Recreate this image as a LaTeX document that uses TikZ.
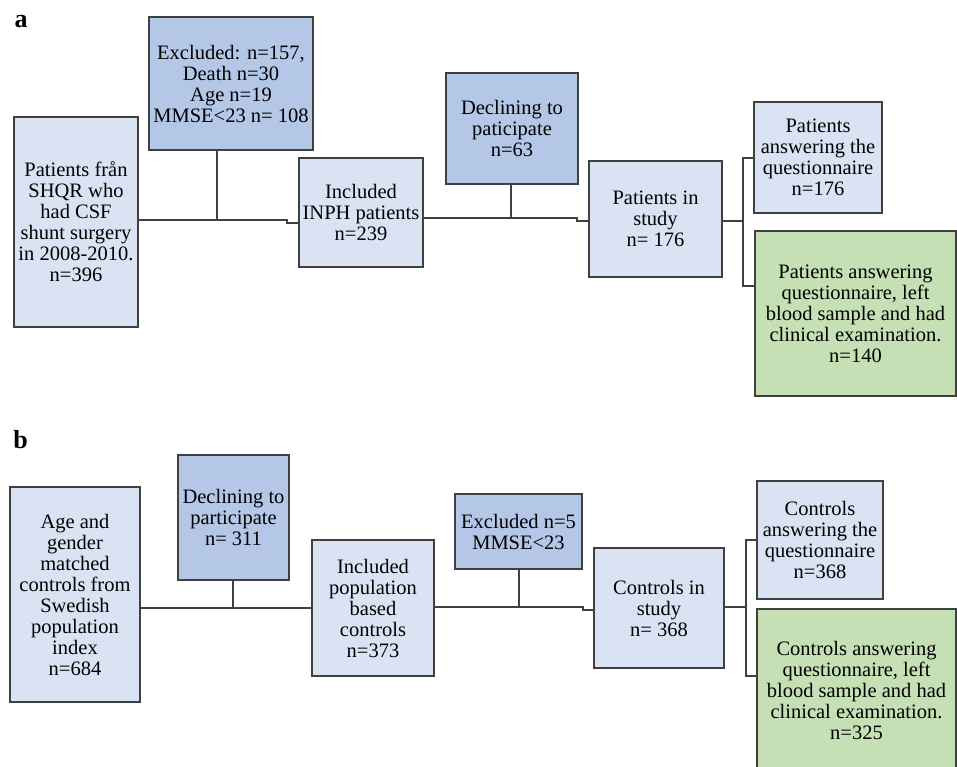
\documentclass[tikz,border=0pt]{standalone}
\usepackage{fontspec}
\setmainfont{Liberation Serif}
\definecolor{lightbox}{HTML}{DAE3F3}
\definecolor{midbox}{HTML}{B4C7E7}
\definecolor{greenbox}{HTML}{C5E0B4}
\definecolor{edge}{HTML}{404040}
\begin{document}
\begin{tikzpicture}[x=1pt,y=-1pt,
  box/.style={draw=edge,line width=1.3pt,inner sep=0pt,align=center,
    font=\fontsize{20.5}{21}\selectfont},
  lbox/.style={box,fill=lightbox},
  mbox/.style={box,fill=midbox},
  gbox/.style={box,fill=greenbox},
  conn/.style={draw=edge,line width=1.3pt},
  panel/.style={font=\fontsize{26}{26}\selectfont\bfseries}]
\useasboundingbox (0,0) rectangle (957,767);
\clip (0,0) rectangle (957,767);
% panel a
\node[panel] (la) at (21,22) {a};
\node[lbox,minimum width=124pt,minimum height=210pt] (a1) at (76,222)
  {Patients från\\SHQR who\\had CSF\\shunt surgery\\in 2008-2010.\\n=396};
\node[mbox,minimum width=164pt,minimum height=133pt] (aex) at (231,83.5)
  {Excluded: n=157,\\Death n=30\\Age n=19\\MMSE<23 n= 108};
\node[lbox,minimum width=124pt,minimum height=109pt] (ainc) at (361,212.5)
  {Included\\INPH patients\\n=239};
\node[mbox,minimum width=132pt,minimum height=111pt] (adec) at (512,128.5)
  {Declining to\\paticipate\\n=63};
\node[lbox,minimum width=133pt,minimum height=116pt] (astudy) at (655.5,219)
  {Patients in\\study\\n= 176};
\node[lbox,minimum width=128pt,minimum height=111pt] (aans) at (818,157.5)
  {Patients\\answering the\\questionnaire\\n=176};
\node[gbox,minimum width=201pt,minimum height=165pt] (agreen) at (855.5,313.5)
  {Patients answering\\questionnaire, left\\blood sample and had\\clinical examination.\\n=140};
\draw[conn] (a1.east |- 0,220) -- (287,220) -- (287,223) -- (ainc.west |- 0,223);
\draw[conn] (aex.south -| 217,0) -- (217,220);
\draw[conn] (ainc.east |- 0,218) -- (577,218) -- (577,221) -- (astudy.west |- 0,221);
\draw[conn] (adec.south -| 511,0) -- (511,218);
\draw[conn] (astudy.east |- 0,221) -- (743,221);
\draw[conn] (aans.west |- 0,158) -- (743,158) -- (743,286) -- (agreen.west |- 0,286);
% panel b
\node[panel] (lb) at (20.5,440) {b};
\node[lbox,minimum width=130pt,minimum height=215pt] (b1) at (75,594.5)
  {Age and\\gender\\matched\\controls from\\Swedish\\population\\index\\n=684};
\node[mbox,minimum width=111pt,minimum height=125pt] (bdec) at (233.5,517.5)
  {Declining to\\participate\\n= 311};
\node[lbox,minimum width=122pt,minimum height=136pt] (binc) at (373,608)
  {Included\\population\\based\\controls\\n=373};
\node[mbox,minimum width=127pt,minimum height=75pt] (bex) at (518.5,531.5)
  {Excluded n=5\\MMSE<23};
\node[lbox,minimum width=130pt,minimum height=120pt] (bstudy) at (659,608)
  {Controls in\\study\\n= 368};
\node[lbox,minimum width=126pt,minimum height=118pt] (bans) at (820,540)
  {Controls\\answering the\\questionnaire\\n=368};
\node[gbox,minimum width=199pt,minimum height=162pt] (bgreen) at (856.5,690)
  {Controls answering\\questionnaire, left\\blood sample and had\\clinical examination.\\n=325};
\draw[conn] (b1.east |- 0,608) -- (binc.west |- 0,608);
\draw[conn] (bdec.south -| 233,0) -- (233,608);
\draw[conn] (binc.east |- 0,607) -- (583,607) -- (583,610) -- (bstudy.west |- 0,610);
\draw[conn] (bex.south -| 519,0) -- (519,607);
\draw[conn] (bstudy.east |- 0,607) -- (746,607);
\draw[conn] (bans.west |- 0,540) -- (746,540) -- (746,676) -- (bgreen.west |- 0,676);
\end{tikzpicture}
\end{document}
